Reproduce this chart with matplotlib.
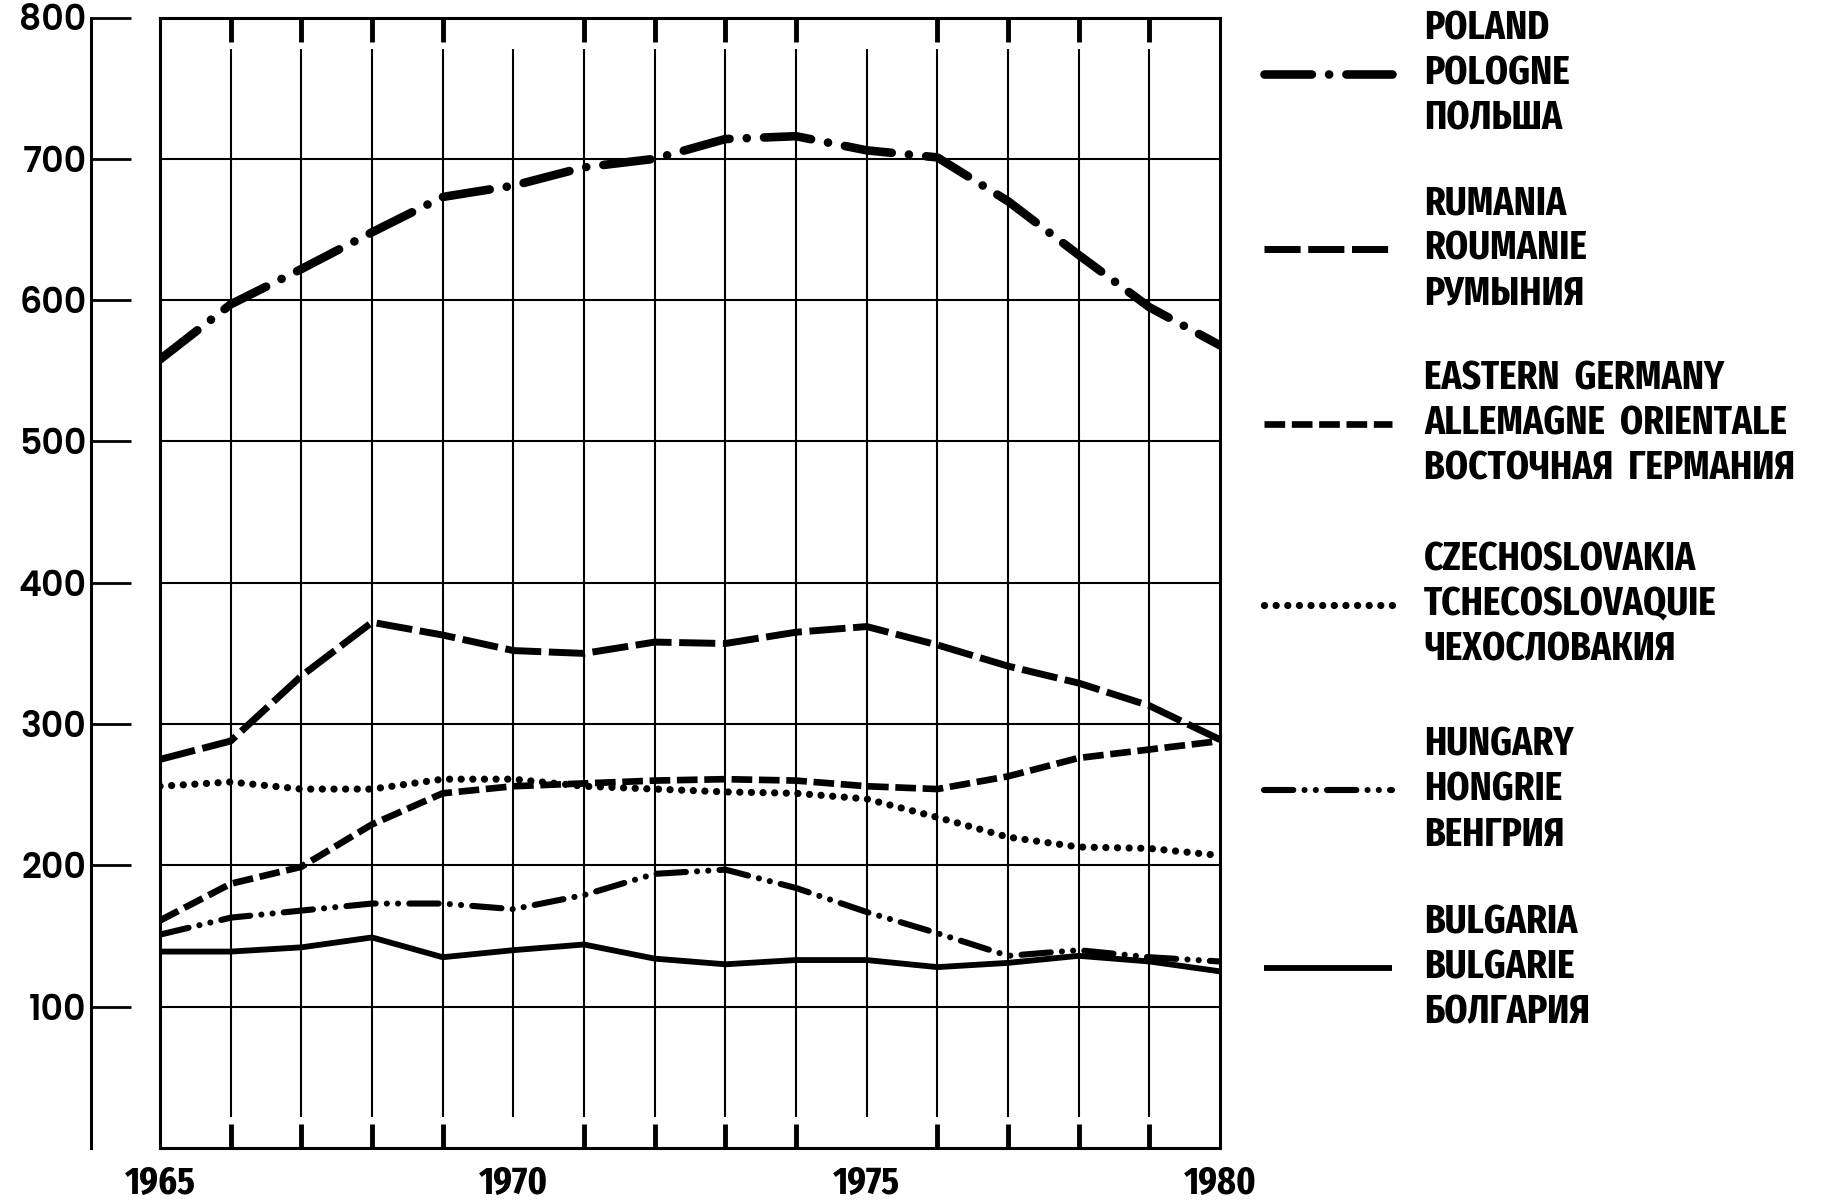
import matplotlib
matplotlib.use("Agg")
import matplotlib.pyplot as plt
from matplotlib.lines import Line2D

# data (index values, 1965-1980)
years = list(range(1965, 1981))
poland = [558, 597, 622, 648, 673, 681, 694, 700, 714, 716, 706, 701, 670, 632, 595, 568]
rumania = [275, 288, 334, 372, 363, 352, 350, 358, 357, 365, 369, 356, 341, 329, 313, 289]
east_germany = [161, 187, 199, 229, 251, 256, 258, 260, 261, 260, 256, 254, 263, 276, 282, 288]
czech = [256, 259, 254, 254, 261, 261, 256, 254, 252, 251, 247, 234, 220, 213, 212, 207]
hungary = [151, 163, 168, 173, 173, 169, 179, 194, 197, 184, 167, 152, 136, 140, 135, 132]
bulgaria = [139, 139, 142, 149, 135, 140, 144, 134, 130, 133, 133, 128, 131, 136, 132, 125]

labels = [
    "POLAND\nPOLOGNE\nПОЛЬША",
    "RUMANIA\nROUMANIE\nРУМЫНИЯ",
    "EASTERN  GERMANY\nALLEMAGNE  ORIENTALE\nВОСТОЧНАЯ  ГЕРМАНИЯ",
    "CZECHOSLOVAKIA\nTCHECOSLOVAQUIE\nЧЕХОСЛОВАКИЯ",
    "HUNGARY\nHONGRIE\nВЕНГРИЯ",
    "BULGARIA\nBULGARIE\nБОЛГАРИЯ",
]
series = [poland, rumania, east_germany, czech, hungary, bulgaria]

# line styles: (linewidth, dash pattern, capstyle)
styles = [
    (6.2, (0, (5.5, 2, 0.01, 2)), "round"),
    (5.0, (0, (5.2, 1.1)), "butt"),
    (4.8, (0, (3.1, 1.0)), "butt"),
    (5.2, (0, (0.01, 1.6)), "round"),
    (4.4, (0, (4.8, 1.83, 0.01, 1.83, 0.01, 1.83)), "round"),
    (4.2, "-", "butt"),
]

W, H = 1830, 1201
narrow = ["Fira Sans Extra Condensed", "Roboto Condensed", "DejaVu Sans"]
round_font = ["Poppins", "DejaVu Sans"]

fig = plt.figure(figsize=(W / 100, H / 100), dpi=100)
fig.patch.set_facecolor("white")
ax = fig.add_axes([160 / W, 1 - 1148 / H, (1220 - 160) / W, (1148 - 17.5) / H])
ax.set_xlim(1965, 1980)
ax.set_ylim(0, 800)

for s in ax.spines.values():
    s.set_linewidth(2.2)
# detached y axis on the left
ax.spines["left"].set_position(("outward", 50))
ax.axvline(1965, color="k", lw=2.2, clip_on=False)

ax.set_yticks(range(100, 900, 100))
ax.set_yticklabels([str(v) for v in range(100, 900, 100)], family=round_font,
                   fontweight="semibold")
ax.tick_params(axis="y", direction="in", length=29, width=2, labelsize=25, pad=3)

ax.set_xticks([1965, 1970, 1975, 1980])
ax.set_xticklabels(["1965", "1970", "1975", "1980"], family=narrow, fontweight="bold")
ax.set_xticks(years[1:-1], minor=True)
ax.tick_params(axis="x", which="major", length=0, labelsize=28, pad=12)
ax.tick_params(axis="x", which="minor", direction="in", length=17, width=3.5,
               top=True, bottom=True)

# grid
ax.hlines(range(100, 800, 100), 1965, 1980, color="k", lw=1.5)
ax.vlines(years[1:-1], 22, 778, color="k", lw=1.5)

for vals, (lw, ls, cap) in zip(series, styles):
    ax.plot(years, vals, color="k", lw=lw, linestyle=ls,
            dash_capstyle=cap, solid_capstyle="butt", zorder=3)

# legend drawn by hand at the right
legend_y = [73.5, 248.6, 423.6, 604.5, 790, 967.5]
for lab, yy, (lw, ls, cap) in zip(labels, legend_y, styles):
    yf = 1 - yy / H
    fig.add_artist(Line2D([1264 / W, 1392 / W], [yf, yf], transform=fig.transFigure,
                          color="k", lw=lw, linestyle=ls, dash_capstyle=cap,
                          solid_capstyle="butt"))
    fig.text(1424 / W, yf, lab, ha="left", va="center", fontsize=29,
             fontweight="bold", family=narrow, linespacing=1.2)

fig.savefig("out.png", dpi=100, facecolor="white")
